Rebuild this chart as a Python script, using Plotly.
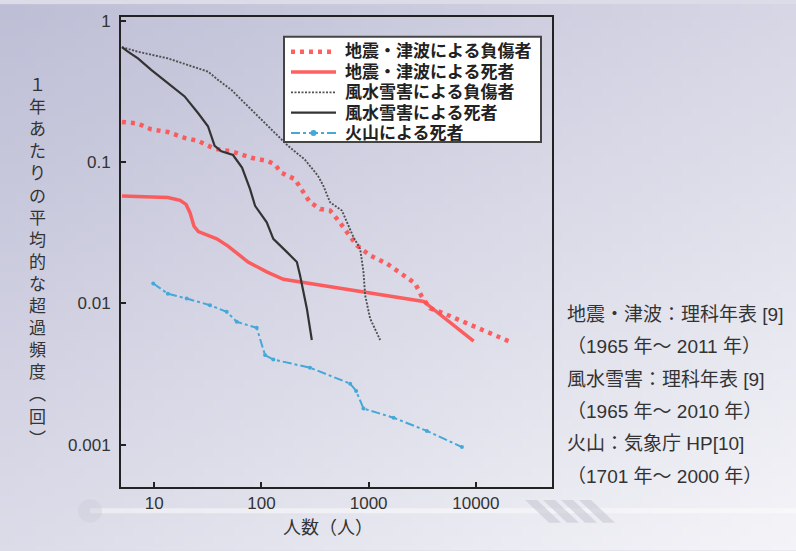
import base64
import struct
import zlib

import plotly.graph_objects as go

# ---------------- data ----------------
quake_inj_x = [5, 7.05, 9.37, 13.4, 19.2, 25.6, 36.6, 52.4, 80.5, 115, 134, 153, 205, 239, 284,
               353, 437, 522, 626, 776, 1032, 1479, 2115, 2718, 3138, 3752, 4993, 8254, 13630, 20180]
quake_inj_y = [0.192, 0.187, 0.170, 0.163, 0.148, 0.141, 0.124, 0.119, 0.107, 0.1016, 0.0957,
               0.0841, 0.0755, 0.0629, 0.0518, 0.0465, 0.0453, 0.0385, 0.0319, 0.0257, 0.0218,
               0.0191, 0.0158, 0.0138, 0.0111, 0.0092, 0.0085, 0.0072, 0.0061, 0.0054]

quake_dead_x = [5, 13.4, 17.4, 19.8, 21.5, 23.5, 25.8, 38.3, 48.8, 75, 112, 160, 284, 894, 3250, 9530]
quake_dead_y = [0.0575, 0.0561, 0.0535, 0.0501, 0.044, 0.0351, 0.0322, 0.0286, 0.0254, 0.0196,
                0.0167, 0.0148, 0.0138, 0.0121, 0.0103, 0.0054]

storm_inj_x = [5, 7.05, 13.4, 20.7, 31.7, 39.4, 52.4, 69.8, 93, 133, 177, 254, 337, 378, 437,
               563, 626, 721, 833, 894, 927, 1032, 1280]
storm_inj_y = [0.65, 0.603, 0.541, 0.485, 0.436, 0.381, 0.324, 0.261, 0.211, 0.161, 0.130, 0.104,
               0.0797, 0.0678, 0.0518, 0.0453, 0.0374, 0.0294, 0.0243, 0.0167, 0.0114, 0.0078, 0.0055]

storm_dead_x = [5, 5.68, 7.05, 9.37, 13.4, 19.2, 25.6, 31.7, 36.6, 42.3, 54.3, 65.9, 78.3, 87.2,
                112, 129, 172, 214, 229, 265, 295]
storm_dead_y = [0.65, 0.603, 0.541, 0.448, 0.361, 0.291, 0.222, 0.179, 0.130, 0.119, 0.112, 0.0912,
                0.0642, 0.049, 0.0374, 0.0286, 0.0231, 0.0196, 0.0158, 0.0092, 0.0055]

volcano_x = [9.79, 13.4, 20.1, 33.1, 47.4, 58.8, 90.3, 108, 129, 284, 672, 764, 894, 1706, 3490, 7410]
volcano_y = [0.0138, 0.0117, 0.0108, 0.0097, 0.0087, 0.0074, 0.0067, 0.0043, 0.0040, 0.0035,
             0.0027, 0.0024, 0.0018, 0.00155, 0.00125, 0.00096]

series_names = ["地震・津波による負傷者", "地震・津波による死者", "風水雪害による負傷者",
                "風水雪害による死者", "火山による死者"]

x_tick_vals = [10, 100, 1000, 10000]
x_tick_text = ["10", "100", "1000", "10000"]
y_tick_vals = [1, 0.1, 0.01, 0.001]
y_tick_text = ["1", "0.1", "0.01", "0.001"]

y_title = "１年あたりの平均的な超過頻度︵回︶"
x_title = "人数（人）"
source_lines = ["地震・津波：理科年表 [9]", "（1965 年～ 2011 年）",
                "風水雪害：理科年表 [9]", "（1965 年～ 2010 年）",
                "火山：気象庁 HP[10]", "（1701 年～ 2000 年）"]

# ---------------- layout geometry ----------------
W, H = 796, 551
L, R, T, B = 121, 552, 13, 487   # plot area in pixels
JP = "Liberation Sans, Noto Sans CJK JP"


def px_x(p):
    return (p - L) / (R - L)


def px_y(p):
    return (B - p) / (B - T)


def gradient_png(w, h, c0, c1, wx=0.45, wy=0.55):
    raw = bytearray()
    for j in range(h):
        raw.append(0)
        for i in range(w):
            t = wx * i / (w - 1) + wy * j / (h - 1)
            for k in range(3):
                raw.append(int(round(c0[k] + (c1[k] - c0[k]) * t)))

    def chunk(tag, data):
        c = struct.pack(">I", len(data)) + tag + data
        return c + struct.pack(">I", zlib.crc32(tag + data) & 0xffffffff)

    png = b"\x89PNG\r\n\x1a\n"
    png += chunk(b"IHDR", struct.pack(">IIBBBBB", w, h, 8, 2, 0, 0, 0))
    png += chunk(b"IDAT", zlib.compress(bytes(raw), 9))
    png += chunk(b"IEND", b"")
    return "data:image/png;base64," + base64.b64encode(png).decode()


bg_src = gradient_png(80, 56, (190, 190, 214), (244, 244, 248))

RED = "rgba(255,80,80,0.9)"
BLUE = "#45a8d8"
styles = [
    dict(color=RED, width=4.5, dash="4px,5px"),
    dict(color=RED, width=3.5),
    dict(color="#505050", width=1.9, dash="2px,1.5px"),
    dict(color="#333333", width=2.2),
    dict(color=BLUE, width=2, dash="dashdot"),
]
series_x = [quake_inj_x, quake_dead_x, storm_inj_x, storm_dead_x, volcano_x]
series_y = [quake_inj_y, quake_dead_y, storm_inj_y, storm_dead_y, volcano_y]

fig = go.Figure()
for i in range(5):
    is_volc = i == 4
    fig.add_trace(go.Scatter(
        x=series_x[i], y=series_y[i], name=series_names[i],
        mode="lines+markers" if is_volc else "lines",
        line=styles[i],
        marker=dict(color=BLUE, size=4) if is_volc else None,
        showlegend=False))

axis_common = dict(showline=True, linewidth=2, linecolor="#222222", mirror=True,
                   ticks="inside", ticklen=5, tickwidth=2, tickcolor="#222222",
                   showgrid=False, zeroline=False,
                   tickfont=dict(family="Liberation Sans, Arial", size=17, color="#333333"))

fig.update_xaxes(type="log", range=[0.69, 4.71], tickvals=x_tick_vals, ticktext=x_tick_text,
                 **axis_common)
fig.update_yaxes(type="log", range=[-3.30, 0.026], tickvals=y_tick_vals, ticktext=y_tick_text,
                 ticklabelstandoff=5, **axis_common)

annotations = [
    dict(text="<br>".join(list(y_title)), x=px_x(37), y=px_y(261), xref="paper", yref="paper",
         showarrow=False, xanchor="center", yanchor="middle",
         font=dict(family=JP, size=17, color="#333333")),
    dict(text=x_title, x=px_x(328), y=px_y(528), xref="paper", yref="paper",
         showarrow=False, xanchor="center", yanchor="middle",
         font=dict(family=JP, size=18, color="#333333")),
]
for i, line in enumerate(source_lines):
    annotations.append(dict(text=line, x=px_x(565), y=px_y(313 + 32.6 * i), xref="paper",
                            yref="paper", showarrow=False, xanchor="left", yanchor="middle",
                            font=dict(family=JP, size=19, color="#333333")))

shapes = [
    dict(type="line", xref="paper", yref="paper", x0=px_x(90), x1=px_x(796), y0=px_y(511),
         y1=px_y(511), line=dict(color="rgba(255,255,255,0.45)", width=5), layer="below"),
    dict(type="circle", xref="paper", yref="paper", x0=px_x(78), x1=px_x(102), y0=px_y(523),
         y1=px_y(499), fillcolor="rgba(200,200,215,0.35)", line=dict(width=0), layer="below"),
]
for k in range(4):
    x0 = 525 + 18 * k
    path = "M {a},{b} L {c},{b} L {d},{e} L {f},{e} Z".format(
        a=px_x(x0), b=px_y(500), c=px_x(x0 + 12), d=px_x(x0 + 36), e=px_y(523), f=px_x(x0 + 24))
    shapes.append(dict(type="path", xref="paper", yref="paper", path=path,
                       fillcolor="rgba(200,200,212,0.6)", line=dict(width=0), layer="below"))

# ---- legend box (drawn to match the reference's compact legend) ----
LEG_GAP = 20.5
LEG_MID = 89
shapes.append(dict(type="rect", xref="paper", yref="paper", x0=px_x(284), x1=px_x(541),
                   y0=px_y(139), y1=px_y(33), fillcolor="white",
                   line=dict(color="#444444", width=2), layer="above"))
for i in range(5):
    yy = LEG_MID + (i - 2) * LEG_GAP
    shapes.append(dict(type="line", xref="paper", yref="paper", x0=px_x(291), x1=px_x(336),
                       y0=px_y(yy), y1=px_y(yy), line=styles[i], layer="above"))
    if i == 4:
        shapes.append(dict(type="circle", xref="paper", yref="paper", x0=px_x(310.5),
                           x1=px_x(316.5), y0=px_y(yy + 3), y1=px_y(yy - 3), fillcolor=BLUE,
                           line=dict(width=0), layer="above"))
legend_text = "<br>".join('<span style="font-size:17px">{}</span>'.format(n)
                          for n in series_names)
annotations.append(dict(text=legend_text, x=px_x(343), y=px_y(LEG_MID), xref="paper",
                        yref="paper", showarrow=False, xanchor="left", yanchor="middle",
                        align="left",
                        font=dict(family=JP, size=LEG_GAP / 1.3,
                                  color="#222222", weight="bold")))

fig.update_layout(
    width=W, height=H, autosize=False,
    margin=dict(l=L, r=W - R, t=T, b=H - B, pad=0),
    paper_bgcolor="#dcdce8", plot_bgcolor="white",
    showlegend=False,
    images=[dict(source=bg_src, xref="paper", yref="paper", x=px_x(0), y=px_y(0),
                 sizex=W / (R - L), sizey=H / (B - T), sizing="stretch", layer="below")],
    annotations=annotations,
    shapes=shapes,
)

fig.write_html("out.html", config={"displayModeBar": False},
               post_script="document.body.style.margin='0';"
                           "document.documentElement.style.overflow='hidden';")
